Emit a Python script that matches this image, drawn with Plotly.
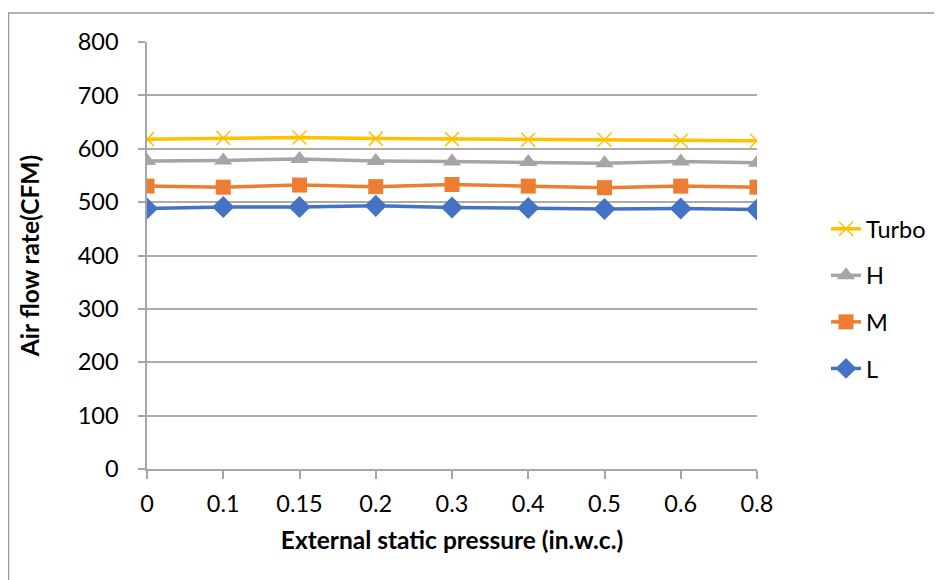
import plotly.graph_objects as go

pressure = ["0", "0.1", "0.15", "0.2", "0.3", "0.4", "0.5", "0.6", "0.8"]
turbo = [618, 620, 621, 619, 618, 617, 617, 615, 615]
high = [577, 578, 581, 577, 576, 575, 573, 576, 574]
medium = [530, 528, 532, 529, 533, 530, 527, 530, 528]
low = [488, 491, 491, 493, 490, 489, 487, 488, 486]
y_ticks = [0, 100, 200, 300, 400, 500, 600, 700, 800]

FONT = "Lato"
OFF = 8  # page body margin
W, H = 942, 580
X0, X1, Y0, Y1 = 147, 757, 42, 469
L, T = X0 - OFF, Y0 - OFF
R = W - (X1 - OFF)
B = H - (Y1 - OFF)
pw, ph = X1 - X0, Y1 - Y0

series = [
    ("Turbo", turbo, "#FFC000", dict(symbol="x-thin", size=14, line=dict(width=1.5, color="#FFC000"))),
    ("H", high, "#A5A5A5", dict(symbol="triangle-up", size=16)),
    ("M", medium, "#ED7D31", dict(symbol="square", size=15)),
    ("L", low, "#4472C4", dict(symbol="diamond", size=17)),
]

fig = go.Figure()
for name, vals, col, mk in series:
    fig.add_trace(go.Scatter(
        x=pressure, y=vals, name=name, mode="lines+markers",
        line=dict(color=col, width=3.5),
        marker=dict(color=col, **mk),
        legendgroup=name,
    ))

def px_x(p):
    return (p - X0) / pw

def px_y(p):
    return (Y1 - p) / ph

fig.add_shape(type="rect", xref="paper", yref="paper",
              x0=px_x(8.5), x1=px_x(W + 20), y0=px_y(H + 20), y1=px_y(13),
              line=dict(color="#9A9A9A", width=1.5), fillcolor="rgba(0,0,0,0)", layer="below")

TICK = 23.5
fig.update_layout(
    width=W, height=H,
    margin=dict(l=L, r=R, t=T, b=B),
    paper_bgcolor="white", plot_bgcolor="white",
    font=dict(family=FONT, size=TICK, color="#000000"),
    showlegend=True,
    legend=dict(x=px_x(826), xanchor="left", y=px_y(207), yanchor="top",
                traceorder="grouped", tracegroupgap=13,
                font=dict(family=FONT, size=TICK, color="#000000"),
                bgcolor="rgba(0,0,0,0)"),
    xaxis=dict(
        type="category", range=[0, len(pressure) - 1],
        showgrid=False, showline=True, linecolor="#A6A6A6", linewidth=1.5,
        ticks="outside", ticklen=8, tickcolor="#A6A6A6", tickwidth=1.5,
        ticklabelstandoff=5,
        tickfont=dict(family=FONT, size=TICK, color="#000000"),
        title=dict(text="<b>External static pressure (in.w.c.)</b>",
                   font=dict(family=FONT, size=24.5, color="#000000"), standoff=16),
        zeroline=False,
    ),
    yaxis=dict(
        range=[0, 800], tickvals=y_ticks,
        showgrid=True, gridcolor="#ABABAB", gridwidth=1.5,
        showline=True, linecolor="#A6A6A6", linewidth=1.5,
        ticks="outside", ticklen=7, tickcolor="#A6A6A6", tickwidth=1.5,
        ticklabelstandoff=15,
        tickfont=dict(family=FONT, size=TICK, color="#000000"),
        title=dict(text="<b>Air flow rate(CFM)</b>",
                   font=dict(family=FONT, size=24.5, color="#000000"), standoff=31),
        zeroline=False,
    ),
)

fig.write_html("out.html")
